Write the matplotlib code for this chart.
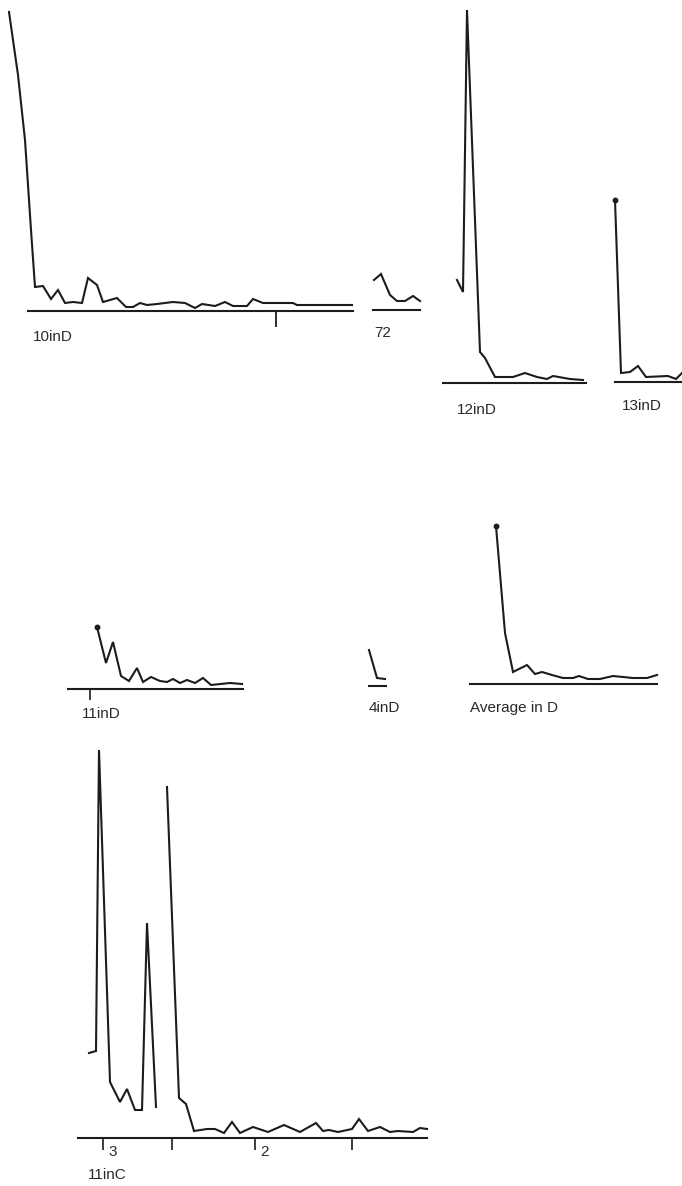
import numpy as np
import matplotlib
matplotlib.use("Agg")
import matplotlib.pyplot as plt

# ---------------- data (x = position along the record, y = height above base line) -------------
d10_x = [-19, -10, -3, 3, 7, 15, 23, 30, 37, 45, 54, 60, 69, 75, 89, 98, 105, 112, 119, 129, 145, 157,
         167, 174, 187, 197, 205, 219, 225, 235, 265, 269, 324]
d10_y = [299, 236, 171, 81, 24, 25, 12, 21, 8, 9, 8, 33, 26, 9, 13, 4, 4, 8, 6, 7, 9, 8,
         3, 7, 5, 9, 5, 5, 12, 8, 8, 6, 6]

d72_x = [1, 8, 17, 24, 32, 40, 47]
d72_y = [30, 36, 15, 9, 9, 14, 9]

d12_x = [14, 20, 24, 37, 42, 52, 70, 82, 94, 104, 110, 127, 140]
d12_y = [103, 91, 373, 31, 25, 6, 6, 10, 6, 4, 7, 4, 3]

d13_x = [0, 6, 15, 23, 31, 53, 61, 67]
d13_y = [182, 9, 10, 16, 5, 6, 3, 9]

d11_x = [29, 38, 45, 53, 61, 69, 75, 83, 92, 99, 105, 112, 119, 127, 135, 143, 162, 174]
d11_y = [62, 26, 47, 13, 8, 21, 7, 12, 8, 7, 10, 6, 9, 6, 11, 4, 6, 5]

d4_x = [0, 8, 16]
d4_y = [36, 8, 7]

avg_x = [26, 35, 43, 57, 65, 72, 82, 93, 103, 109, 118, 130, 143, 153, 163, 177, 187]
avg_y = [158, 51, 12, 19, 10, 12, 9, 6, 6, 8, 5, 5, 8, 7, 6, 6, 9]

c11_x = [11, 18, 21, 32, 42, 49, 57, 64, 69, 78, np.nan,
         89, 101, 108, 116, 129, 137, 146, 154, 162, 175, 190, 206, 222, 238, 245,
         251, 260, 274, 281, 290, 302, 312, 320, 335, 342, 349]
c11_y = [85, 87, 388, 56, 36, 49, 28, 28, 215, 31, np.nan,
         351, 40, 34, 7, 9, 9, 5, 16, 5, 11, 6, 13, 6, 15, 7,
         8, 6, 9, 19, 7, 11, 6, 7, 6, 10, 9]
c11_ticks = [25, 94, 177, 274]
c11_ticklabels = ["3", "", "2", ""]

labels = ["10inD", "72", "12inD", "13inD", "11inD", "4inD", "Average in D", "11inC"]

# ---------------- figure ----------------
W, H = 682, 1186
fig = plt.figure(figsize=(W / 100, H / 100), dpi=100)
fig.patch.set_facecolor("white")
INK = "#1c1c1c"
LW = 1.5
FONT = dict(family=["Liberation Sans", "DejaVu Sans"], color="#2a2a2a")


def panel(x0, x1, ybase, height):
    ax = fig.add_axes([x0 / W, 1 - ybase / H, (x1 - x0) / W, height / H])
    ax.set_xlim(0, x1 - x0)
    ax.set_ylim(0, height)
    ax.patch.set_alpha(0)
    for s in ("top", "right", "left"):
        ax.spines[s].set_visible(False)
    ax.spines["bottom"].set_linewidth(LW)
    ax.spines["bottom"].set_color(INK)
    ax.set_yticks([])
    ax.set_xticks([])
    return ax


def trace(ax, x, y, dot=False):
    ax.plot(x, y, color=INK, lw=LW, clip_on=False, solid_joinstyle="miter",
            marker="o" if dot else None, markevery=[0], ms=3.2)


def label(px, py, s, size=11, ha="left"):
    fig.text(px / W, 1 - py / H, s, ha=ha, va="center", fontsize=size, **FONT)


# 10 in D
ax = panel(28, 353, 311, 300)
trace(ax, d10_x, d10_y)
ax.set_xticks([248])
ax.tick_params(axis="x", direction="out", length=11.5, width=1.3, color=INK, labelbottom=False)
label(33, 337, labels[0])

# 72
ax = panel(373, 420, 310, 40)
trace(ax, d72_x, d72_y)
label(374, 333, labels[1])

# 12 in D
ax = panel(443, 586, 383, 375)
trace(ax, d12_x, d12_y)
label(457, 410, labels[2])

# 13 in D
ax = panel(615, 682, 382, 185)
trace(ax, d13_x, d13_y, dot=True)
label(622, 406, labels[3])

# 11 in D
ax = panel(68, 243, 689, 65)
trace(ax, d11_x, d11_y, dot=True)
ax.set_xticks([22])
ax.tick_params(axis="x", direction="out", length=8, width=1.2, color=INK, labelbottom=False)
label(82, 714, labels[4])

# 4 in D
ax = panel(369, 386, 686, 38)
trace(ax, d4_x, d4_y)
label(369, 708, labels[5])

# Average in D
ax = panel(470, 657, 684, 160)
trace(ax, avg_x, avg_y, dot=True)
label(470, 708, labels[6])

# 11 in C
ax = panel(78, 427, 1138, 392)
trace(ax, c11_x, c11_y)
ax.set_xticks(c11_ticks)
ax.tick_params(axis="x", direction="out", length=8.5, width=1.2, color=INK, labelbottom=False)
for t, s in zip(c11_ticks, c11_ticklabels):
    if s:
        ax.annotate(s, xy=(t, 0), xytext=(4, -10), textcoords="offset points",
                    ha="left", va="center", fontsize=11, **FONT)
label(88, 1175, labels[7])

fig.savefig("out.png", dpi=100, facecolor="white")
